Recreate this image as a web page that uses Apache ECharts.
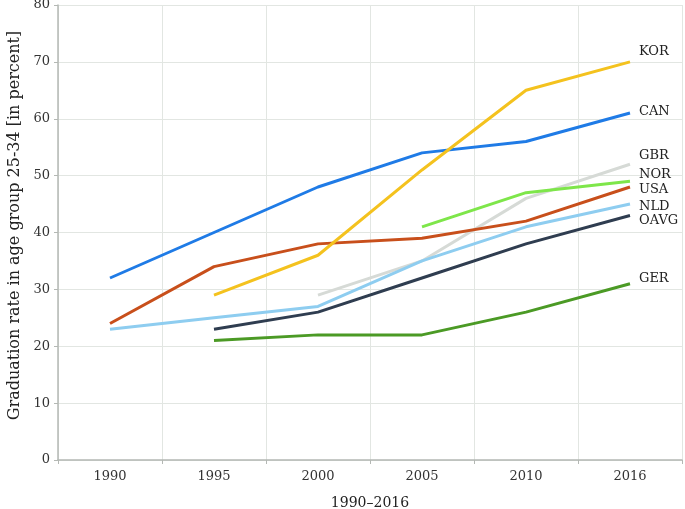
<!DOCTYPE html>
<html>
<head>
<meta charset="utf-8">
<script src="https://cdn.jsdelivr.net/npm/echarts@6/dist/echarts.min.js"></script>
<style>html,body{margin:0;padding:0;background:#fff;}#c{width:685px;height:509px;}</style>
</head>
<body>
<div id="c"></div>
<script>
const years = ['1990', '1995', '2000', '2005', '2010', '2016'];
const KOR  = [null, 29, 36, 51, 65, 70];
const CAN  = [32, 40, 48, 54, 56, 61];
const GBR  = [null, null, 29, 35, 46, 52];
const NOR  = [null, null, null, 41, 47, 49];
const USA  = [24, 34, 38, 39, 42, 48];
const NLD  = [23, 25, 27, 35, 41, 45];
const OAVG = [null, 23, 26, 32, 38, 43];
const GER  = [null, 21, 22, 22, 26, 31];
const yTicks = [0, 10, 20, 30, 40, 50, 60, 70, 80];

const FONT = 'DejaVu Serif';
function mk(name, data, color, dy) {
  return {
    name: name, type: 'line', data: data, symbol: 'none',
    lineStyle: { color: color, width: 3 }, itemStyle: { color: color },
    endLabel: { show: true, formatter: name, color: '#222', fontFamily: FONT, fontSize: 13, distance: 9, offset: [0, dy] },
    emphasis: { disabled: true }, z: 3
  };
}
const chart = echarts.init(document.getElementById('c'), null, { renderer: 'canvas' });
chart.setOption({
  animation: false,
  backgroundColor: '#fff',
  grid: { left: 58, right: 3, top: 5, bottom: 49, containLabel: false, outerBoundsMode: 'none' },
  xAxis: {
    type: 'category', data: years, boundaryGap: true,
    name: '1990–2016', nameLocation: 'middle', nameGap: 36,
    nameTextStyle: { fontFamily: FONT, fontSize: 14, color: '#222' },
    axisLine: { lineStyle: { color: '#b4b8b4', width: 1.5 } },
    axisTick: { show: true, length: 4, lineStyle: { color: '#b4b8b4' } },
    axisLabel: { fontFamily: FONT, fontSize: 13, color: '#333', margin: 10 },
    splitLine: { show: true, lineStyle: { color: '#e2e6e2', width: 1 } }
  },
  yAxis: {
    type: 'value', min: 0, max: 80, interval: 10,
    name: 'Graduation rate in age group 25-34 [in percent]', nameLocation: 'middle', nameGap: 35,
    nameTextStyle: { fontFamily: FONT, fontSize: 16, color: '#222', padding: [0, 0, 0, 14] },
    axisLine: { show: true, lineStyle: { color: '#b4b8b4', width: 1.5 } },
    axisTick: { show: true, length: 4, lineStyle: { color: '#b4b8b4' } },
    axisLabel: { fontFamily: FONT, fontSize: 13, color: '#333', margin: 8,
      formatter: v => yTicks.includes(v) ? String(v) : '' },
    splitLine: { show: true, lineStyle: { color: '#e2e6e2', width: 1 } }
  },
  series: [
    mk('GER', GER, '#4b9a25', -5),
    mk('GBR', GBR, '#d6dad6', -9),
    mk('OAVG', OAVG, '#2f3d50', 5),
    mk('NLD', NLD, '#8ecdf0', 3),
    mk('USA', USA, '#c84f1b', 3),
    mk('NOR', NOR, '#7ee64a', -7),
    mk('CAN', CAN, '#1f7be6', -1),
    mk('KOR', KOR, '#f4c21e', -10)
  ]
});
</script>
</body>
</html>
